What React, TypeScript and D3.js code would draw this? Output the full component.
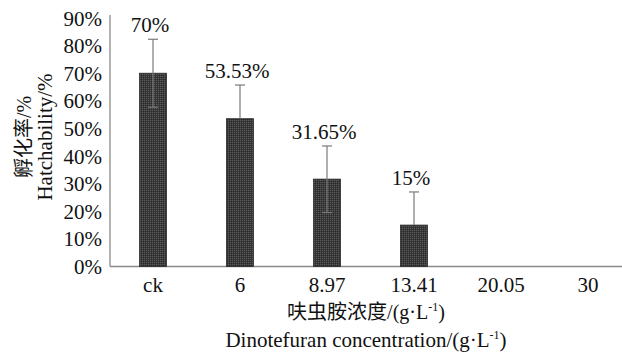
import React from 'react';
import * as d3 from 'd3';

const categories = ['ck', '6', '8.97', '13.41', '20.05', '30'];
const hatchability = [70, 53.53, 31.65, 15, 0, 0];
const errUp = [12.3, 12.2, 12, 12, 0, 0];
const errDown = [12.3, 0, 12.1, 0, 0, 0];
const valueLabels = ['70%', '53.53%', '31.65%', '15%', '', ''];
const yTicks = [0, 10, 20, 30, 40, 50, 60, 70, 80, 90];

const W = 622;
const H = 355;
const serif = 'Liberation Serif';
const cjk = 'Noto Sans CJK SC';

export default function App() {
  const x = d3.scaleBand<string>().domain(categories).range([109.5, 631.5]).paddingInner(0).paddingOuter(0);
  const y = d3.scaleLinear().domain([0, 90]).range([266.5, 18]);
  const barW = x.bandwidth() * 0.31;
  const cx = (c: string) => (x(c) as number) + x.bandwidth() / 2;
  const txt = { fontFamily: serif, fontSize: 21, fill: '#111' };

  return (
    <svg width={W} height={H} style={{ position: 'absolute', left: 0, top: 0, background: '#fff' }}>
      <defs>
        <pattern id="hatch" width="2" height="2" patternUnits="userSpaceOnUse">
          <rect width="2" height="2" fill="#3a3a3a" />
          <rect width="1" height="1" fill="#5a5a5a" />
          <rect x="1" y="1" width="1" height="1" fill="#2a2a2a" />
        </pattern>
      </defs>

      {/* axes */}
      <line x1={110} x2={110} y1={15} y2={y(0)} stroke="#8a8a8a" strokeWidth={1.3} />
      <line x1={110} x2={W} y1={y(0)} y2={y(0)} stroke="#8a8a8a" strokeWidth={1.3} />

      {yTicks.map(t => (
        <text key={t} x={102} y={y(t) + 7.5} textAnchor="end" style={txt}>
          {`${t}%`}
        </text>
      ))}

      {categories.map(c => (
        <text key={c} x={cx(c)} y={291.5} textAnchor="middle" style={txt}>
          {c}
        </text>
      ))}

      {/* bars */}
      {categories.map((c, i) => hatchability[i] > 0 && (
        <rect key={c} x={cx(c) - barW / 2} y={y(hatchability[i])} width={barW}
          height={y(0) - y(hatchability[i])} fill="url(#hatch)" stroke="#2a2a2a" strokeWidth={0.8} />
      ))}

      {/* error bars */}
      {categories.map((c, i) => hatchability[i] > 0 && (
        <g key={c} stroke="#7a7a7a" strokeWidth={1.2}>
          <line x1={cx(c)} x2={cx(c)} y1={y(hatchability[i] + errUp[i])} y2={y(hatchability[i] - errDown[i])} />
          <line x1={cx(c) - 5} x2={cx(c) + 5} y1={y(hatchability[i] + errUp[i])} y2={y(hatchability[i] + errUp[i])} />
          {errDown[i] > 0 && (
            <line x1={cx(c) - 5} x2={cx(c) + 5} y1={y(hatchability[i] - errDown[i])} y2={y(hatchability[i] - errDown[i])} />
          )}
        </g>
      ))}

      {/* value labels */}
      {categories.map((c, i) => valueLabels[i] && (
        <text key={c} x={cx(c) - 3} y={y(hatchability[i] + errUp[i]) - 7} textAnchor="middle" style={txt}>
          {valueLabels[i]}
        </text>
      ))}

      {/* y title */}
      <g transform="translate(31,137) rotate(-90)">
        <text x={0} y={0} textAnchor="middle" style={{ ...txt, fontSize: 20 }}>
          <tspan style={{ fontFamily: cjk }}>孵化率</tspan>/%
        </text>
      </g>
      <g transform="translate(52,137) rotate(-90)">
        <text x={0} y={0} textAnchor="middle" style={txt}>Hatchability/%</text>
      </g>

      {/* x titles */}
      <text x={366} y={319} textAnchor="middle" style={{ ...txt, fontSize: 20 }}>
        <tspan style={{ fontFamily: cjk }}>呋虫胺浓度</tspan>/(g·L<tspan fontSize={12} dy={-8}>-1</tspan><tspan dy={8}>)</tspan>
      </text>
      <text x={366} y={347} textAnchor="middle" style={txt}>
        Dinotefuran concentration/(g·L<tspan fontSize={12} dy={-8}>-1</tspan><tspan dy={8}>)</tspan>
      </text>
    </svg>
  );
}
